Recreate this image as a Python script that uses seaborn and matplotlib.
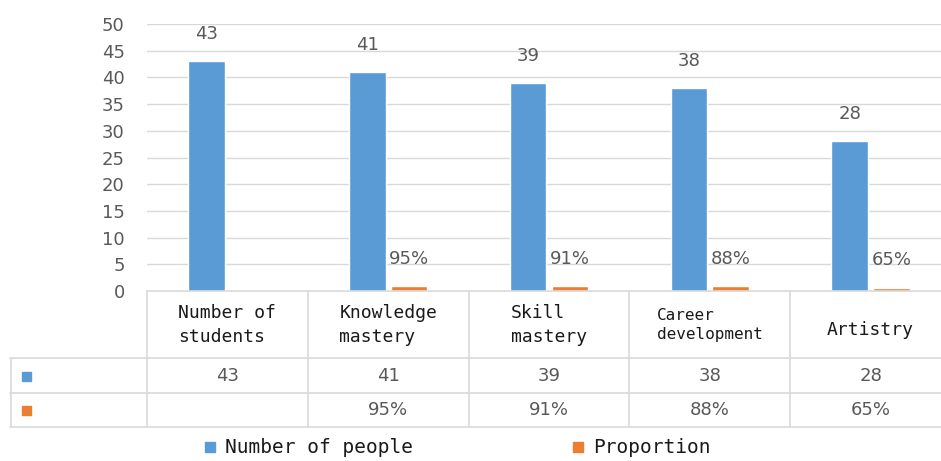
import matplotlib
matplotlib.use("Agg")
import matplotlib.pyplot as plt
import matplotlib.transforms as mtransforms
from matplotlib.patches import Rectangle
from matplotlib.lines import Line2D
import seaborn as sns
import pandas as pd
import numpy as np

# ---- data ----
categories = ["Number of\nstudents", "Knowledge\nmastery", "Skill\nmastery",
              "Career\ndevelopment", "Artistry"]
series_names = ["Number of people", "Proportion"]
people = [43, 41, 39, 38, 28]
proportion = [np.nan, 0.95, 0.91, 0.88, 0.65]
yticks = [0, 5, 10, 15, 20, 25, 30, 35, 40, 45, 50]

BLUE = "#5B9BD5"
ORANGE = "#ED7D31"
GRAY_TXT = "#595959"
GRID = "#D9D9D9"
MONO = "DejaVu Sans Mono"

sns.set_theme(style="white")
plt.rcParams["font.family"] = ["DejaVu Sans"]

W, H = 941, 461
fig = plt.figure(figsize=(W / 100, H / 100), dpi=100)

def fx(px):
    return px / W

def fy(py):
    return 1 - py / H

ax_left, ax_right, ax_top, ax_bottom = 147, 951, 24, 291
ax = fig.add_axes([fx(ax_left), fy(ax_bottom), fx(ax_right - ax_left),
                   (ax_bottom - ax_top) / H])

df = pd.DataFrame({
    "cat": categories * 2,
    "series": [series_names[0]] * len(categories) + [series_names[1]] * len(categories),
    "value": people + proportion,
})

sns.barplot(data=df, x="cat", y="value", hue="series", hue_order=series_names,
            order=categories, palette=[BLUE, ORANGE], width=0.52, gap=0.12,
            legend=False, ax=ax, saturation=1)

ax.set_xlim(-0.5, len(categories) - 0.5)
ax.set_ylim(0, 50)
ax.set_yticks(yticks)
ax.set_yticklabels([str(t) for t in yticks], fontsize=13, color=GRAY_TXT)
ax.tick_params(axis="y", length=0, pad=16)
ax.set_xticks([])
ax.set_xlabel("")
ax.set_ylabel("")
for t in yticks[1:]:
    ax.axhline(t, color=GRID, lw=1, zorder=0)
for s in ["top", "right", "left"]:
    ax.spines[s].set_visible(False)
ax.spines["bottom"].set_color(GRID)
ax.spines["bottom"].set_linewidth(1.2)

# data labels
for ci, cont in enumerate(ax.containers):
    labels = []
    for p in cont.patches:
        h = p.get_height()
        if np.isnan(h) or h == 0:
            labels.append("")
        elif ci == 0:
            labels.append(f"{int(round(h))}")
        else:
            labels.append(f"{int(round(h * 100))}%")
    ax.bar_label(cont, labels=labels, padding=13, fontsize=13, color=GRAY_TXT)

# ---- data table ----
blend = mtransforms.blended_transform_factory(ax.transData, fig.transFigure)
y_head_top, y_row1, y_row2, y_bot = 291, 358, 393, 427
n = len(categories)

# horizontal lines
for py, x0 in [(y_row1, fx(10)), (y_row2, fx(10)), (y_bot, fx(10))]:
    fig.add_artist(Line2D([x0, fx(ax_right)], [fy(py), fy(py)], color=GRID, lw=1.2))
# vertical lines
fig.add_artist(Line2D([fx(11), fx(11)], [fy(y_row1), fy(y_bot)], color=GRID, lw=1.2))
for i in range(n + 1):
    xb = i - 0.5
    fig.add_artist(Line2D([xb, xb], [fy(y_head_top), fy(y_bot)], color=GRID, lw=1.2,
                          transform=blend))

# headers
for i, c in enumerate(categories):
    fs = 11.5 if c.startswith("Career") else 13
    if "\n" in c:
        fig.text(i, fy(325), c, transform=blend, ha="center", va="center",
                 multialignment="left", family=MONO, fontsize=fs, color="#1a1a1a",
                 linespacing=1.4)
    else:
        fig.text(i, fy(330), c, transform=blend, ha="center", va="center",
                 family=MONO, fontsize=fs, color="#1a1a1a")

# row values
for i in range(n):
    fig.text(i, fy(376), f"{people[i]}", transform=blend, ha="center", va="center",
             fontsize=13, color=GRAY_TXT)
    if not np.isnan(proportion[i]):
        fig.text(i, fy(410), f"{int(round(proportion[i] * 100))}%", transform=blend,
                 ha="center", va="center", fontsize=13, color=GRAY_TXT)

# row markers
for py, col in [(376, BLUE), (410, ORANGE)]:
    fig.add_artist(Rectangle((fx(22), fy(py + 4.5)), fx(9), 9 / H, color=col,
                             transform=fig.transFigure))

# legend
for x0, name, col in [(205, series_names[0], BLUE), (573, series_names[1], ORANGE)]:
    fig.add_artist(Rectangle((fx(x0), fy(452)), fx(10), 10 / H, color=col,
                             transform=fig.transFigure))
    fig.text(fx(x0 + 20), fy(447), name, ha="left", va="center", family=MONO,
             fontsize=14, color="#1a1a1a")

fig.savefig("out.png", dpi=100)
